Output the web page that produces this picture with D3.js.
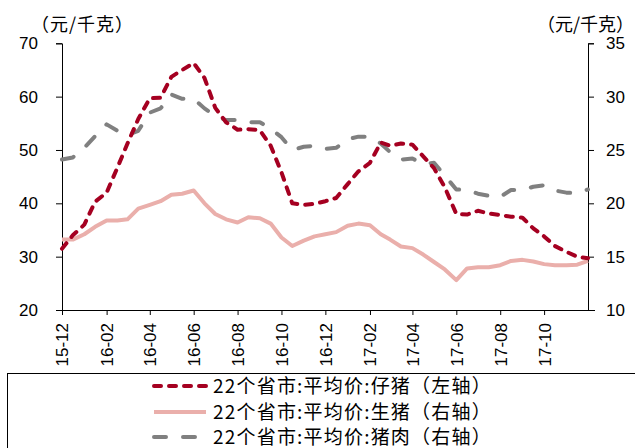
<!DOCTYPE html>
<html>
<head>
<meta charset="utf-8">
<script src="https://cdn.jsdelivr.net/npm/d3@7"></script>
<style>
  body { margin: 0; background: #fff; }
  svg { display: block; }
  text { font-family: "Liberation Sans", Arial, "Noto Sans CJK SC", sans-serif; fill: #000; }
  .cjk { font-family: "Noto Sans CJK SC", sans-serif; }
</style>
</head>
<body>
<svg id="chart" width="635" height="448"></svg>
<script>

// half-monthly readings
var dates = [
  "2015-12-01","2015-12-16","2016-01-01","2016-01-16","2016-02-01","2016-02-16",
  "2016-03-01","2016-03-16","2016-04-01","2016-04-16","2016-05-01","2016-05-16",
  "2016-06-01","2016-06-16","2016-07-01","2016-07-16","2016-08-01","2016-08-16",
  "2016-09-01","2016-09-16","2016-10-01","2016-10-16","2016-11-01","2016-11-16",
  "2016-12-01","2016-12-16","2017-01-01","2017-01-16","2017-02-01","2017-02-16",
  "2017-03-01","2017-03-16","2017-04-01","2017-04-16","2017-05-01","2017-05-16",
  "2017-06-01","2017-06-16","2017-07-01","2017-07-16","2017-08-01","2017-08-16",
  "2017-09-01","2017-09-16","2017-10-01","2017-10-16","2017-11-01","2017-11-16",
  "2017-12-01"
];

// 仔猪 (left axis)
var piglet = [
  31.5, 34.0, 36.0, 40.3, 42.0, 46.7, 51.2, 55.8, 59.7, 59.8, 63.7, 65.0,
  66.3, 63.5, 57.9, 55.2, 53.8, 53.9, 53.7, 50.8, 45.8, 40.0, 39.7, 39.9,
  40.4, 41.0, 43.6, 46.0, 47.6, 51.4, 50.8, 51.2, 51.0, 48.8, 46.6, 43.0,
  38.0, 37.9, 38.6, 38.1, 37.8, 37.5, 37.3, 35.3, 33.8, 32.0, 30.9, 30.0,
  29.7
];

// 生猪 (right axis)
var hog = [
  16.6, 16.6, 17.1, 17.8, 18.4, 18.4, 18.5, 19.5, 19.85, 20.2, 20.8, 20.9,
  21.2, 20.0, 19.0, 18.5, 18.2, 18.7, 18.6, 18.1, 16.8, 16.0, 16.5, 16.9,
  17.1, 17.3, 17.9, 18.1, 17.95, 17.1, 16.6, 15.95, 15.8, 15.2, 14.5, 13.8,
  12.8, 13.9, 14.0, 14.0, 14.2, 14.6, 14.7, 14.55, 14.3, 14.2, 14.2, 14.25,
  14.6
];

// 猪肉 (right axis)
var pork = [
  24.1, 24.3, 25.2, 26.3, 27.4, 26.8, 26.4, 26.8, 28.5, 28.9, 30.2, 29.8,
  29.8, 28.9, 28.2, 27.8, 27.8, 27.6, 27.6, 27.0, 26.2, 25.0, 25.3, 25.4,
  25.1, 25.2, 26.0, 26.25, 26.25, 25.6, 24.8, 24.1, 24.2, 23.7, 23.8, 22.6,
  21.3, 21.25, 20.9, 20.7, 20.6, 21.25, 21.25, 21.55, 21.7, 21.2, 21.0, 20.95,
  21.3
];

var tickLabels = ["15-12","16-02","16-04","16-06","16-08","16-10","16-12",
                  "17-02","17-04","17-06","17-08","17-10"];
var leftTicks = [20, 30, 40, 50, 60, 70];
var rightTicks = [10, 15, 20, 25, 30, 35];
var legendNames = [
  "22个省市:平均价:仔猪（左轴）",
  "22个省市:平均价:生猪（右轴）",
  "22个省市:平均价:猪肉（右轴）"
];

var svg = d3.select("#chart");
var parse = d3.timeParse("%Y-%m-%d");
var dts = dates.map(parse);

var x = d3.scaleTime()
  .domain([dts[0], dts[dts.length - 1]])
  .range([62, 588]);
var yL = d3.scaleLinear().domain([20, 70]).range([310, 43.3]);
var yR = d3.scaleLinear().domain([10, 35]).range([310, 43.3]);

// axes
var axL = svg.append("g").attr("transform", "translate(62,0)")
  .call(d3.axisLeft(yL).tickValues(leftTicks).tickSize(6).tickPadding(18));
var axR = svg.append("g").attr("transform", "translate(588,0)")
  .call(d3.axisRight(yR).tickValues(rightTicks).tickSize(6).tickPadding(12));
var tickDates = tickLabels.map(function(t) { return parse("20" + t + "-01"); });
var axB = svg.append("g").attr("transform", "translate(0,310)")
  .call(d3.axisBottom(x).tickValues(tickDates).tickSize(5).tickPadding(0)
    .tickFormat(function(d, i) { return tickLabels[i]; }));

[axL, axR, axB].forEach(function(a) {
  a.select(".domain").attr("stroke", "#000");
  a.selectAll(".tick line").attr("stroke", "#000");
});
axL.selectAll("text").style("font-size", "17px");
axR.selectAll("text").style("font-size", "17px");
axB.select(".domain").attr("d", "M56,0.5H595");
axB.selectAll(".tick text")
  .style("font-size", "17px")
  .attr("text-anchor", "end")
  .attr("transform", "rotate(-90)")
  .attr("x", -13)
  .attr("y", 0)
  .attr("dy", "0.35em");

// unit labels
svg.append("text").attr("class", "cjk").attr("x", 31).attr("y", 31)
  .style("font-size", "18px").style("letter-spacing", "1px").text("（元/千克）");
svg.append("text").attr("class", "cjk").attr("x", 537).attr("y", 31)
  .style("font-size", "18px").text("（元/千克）");

// lines
var styles = [
  { data: piglet, y: yL, color: "#a50021", dash: "7,8" },
  { data: hog, y: yR, color: "#eaafab", dash: null },
  { data: pork, y: yR, color: "#808080", dash: "12,17" }
];

var plotOrder = [1, 2, 0];
plotOrder.forEach(function(k) {
  var s = styles[k];
  var line = d3.line()
    .x(function(d, i) { return x(dts[i]); })
    .y(function(d) { return s.y(d); });
  svg.append("path")
    .datum(s.data)
    .attr("fill", "none")
    .attr("stroke", s.color)
    .attr("stroke-width", 4)
    .attr("stroke-linecap", s.dash ? "round" : "butt")
    .attr("stroke-linejoin", "round")
    .attr("stroke-dasharray", s.dash)
    .attr("d", line);
});

// legend
svg.append("rect")
  .attr("x", 7.5).attr("y", 373.5)
  .attr("width", 700).attr("height", 100)
  .attr("fill", "none").attr("stroke", "#000");

var legend = svg.append("g");
var rowY = [386, 412, 437];
styles.forEach(function(s, i) {
  legend.append("line")
    .attr("x1", 154).attr("x2", 206)
    .attr("y1", rowY[i]).attr("y2", rowY[i])
    .attr("stroke", s.color)
    .attr("stroke-width", 4)
    .attr("stroke-linecap", s.dash ? "round" : "butt")
    .attr("stroke-dasharray", s.dash);
  legend.append("text")
    .attr("class", "cjk")
    .attr("x", 213).attr("y", rowY[i])
    .attr("dy", "0.35em")
    .style("font-size", "19px")
    .style("letter-spacing", "1.2px")
    .text(legendNames[i]);
});
</script>
</body>
</html>
